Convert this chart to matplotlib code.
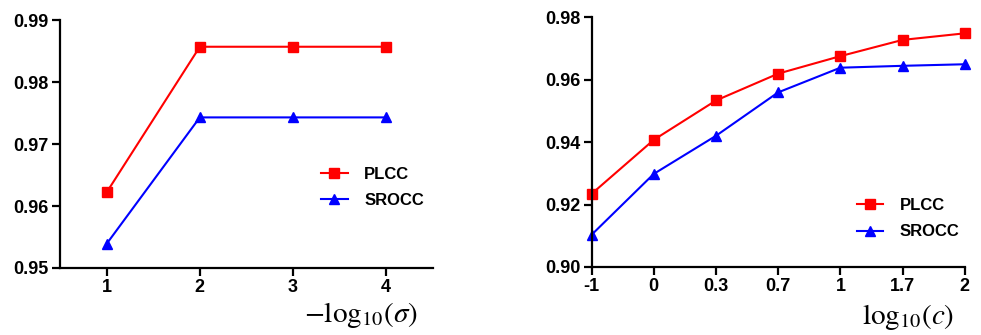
import matplotlib
matplotlib.use("Agg")
import matplotlib.pyplot as plt

plt.rcParams['font.family'] = ['Liberation Sans', 'DejaVu Sans']
plt.rcParams['mathtext.fontset'] = 'stix'

# left panel: -log10(sigma)
sigma_x = [1, 2, 3, 4]
sigma_plcc = [0.9622, 0.9857, 0.9857, 0.9857]
sigma_srocc = [0.9539, 0.9743, 0.9743, 0.9743]

# right panel: log10(c), categorical ticks
c_labels = ['-1', '0', '0.3', '0.7', '1', '1.7', '2']
c_plcc = [0.9234, 0.9407, 0.9533, 0.9619, 0.9675, 0.9727, 0.9748]
c_srocc = [0.9103, 0.9298, 0.9420, 0.9559, 0.9638, 0.9644, 0.9649]

RED = '#ff0000'
BLUE = '#0000ff'


def style(ax):
	for s in ['top', 'right']:
		ax.spines[s].set_visible(False)
	for s in ['left', 'bottom']:
		ax.spines[s].set_linewidth(1.6)
	ax.tick_params(direction='out', length=6, width=1.6, labelsize=13, pad=2)
	for t in ax.get_xticklabels() + ax.get_yticklabels():
		t.set_fontweight('bold')


def draw(ax, x, plcc, srocc):
	ax.plot(x, plcc, color=RED, lw=1.5, marker='s', ms=7, label='PLCC', clip_on=False)
	ax.plot(x, srocc, color=BLUE, lw=1.5, marker='^', ms=7, label='SROCC', clip_on=False)


fig = plt.figure(figsize=(9.81, 3.35), dpi=100)

ax1 = fig.add_axes([0.0612, 0.2, 0.380, 0.740])
draw(ax1, sigma_x, sigma_plcc, sigma_srocc)
ax1.set_xlim(0.5, 4.5)
ax1.set_ylim(0.95, 0.99)
ax1.set_xticks(sigma_x)
ax1.set_yticks([0.95, 0.96, 0.97, 0.98, 0.99])
ax1.set_yticklabels(['%.2f' % v for v in [0.95, 0.96, 0.97, 0.98, 0.99]])
style(ax1)
ax1.legend(loc='center left', bbox_to_anchor=(0.70, 0.325), frameon=False,
	borderpad=0, borderaxespad=0, handlelength=1.6, handletextpad=1.0,
	labelspacing=0.7, prop={'size': 12, 'weight': 'bold'})
ax1.text(0.96, -0.19, r'$-\mathrm{log}_{10}(\sigma)$', transform=ax1.transAxes,
	ha='right', va='center', fontsize=21)

ax2 = fig.add_axes([0.603, 0.203, 0.3805, 0.746])
cx = list(range(len(c_labels)))
draw(ax2, cx, c_plcc, c_srocc)
ax2.set_xlim(0, 6)
ax2.set_ylim(0.90, 0.98)
ax2.set_xticks(cx)
ax2.set_xticklabels(c_labels)
ax2.set_yticks([0.90, 0.92, 0.94, 0.96, 0.98])
ax2.set_yticklabels(['%.2f' % v for v in [0.90, 0.92, 0.94, 0.96, 0.98]])
style(ax2)
ax2.legend(loc='center left', bbox_to_anchor=(0.71, 0.194), frameon=False,
	borderpad=0, borderaxespad=0, handlelength=1.6, handletextpad=1.0,
	labelspacing=0.7, prop={'size': 12, 'weight': 'bold'})
ax2.text(0.973, -0.2, r'$\mathrm{log}_{10}(c)$', transform=ax2.transAxes,
	ha='right', va='center', fontsize=21)

fig.savefig('out.png', dpi=100)
